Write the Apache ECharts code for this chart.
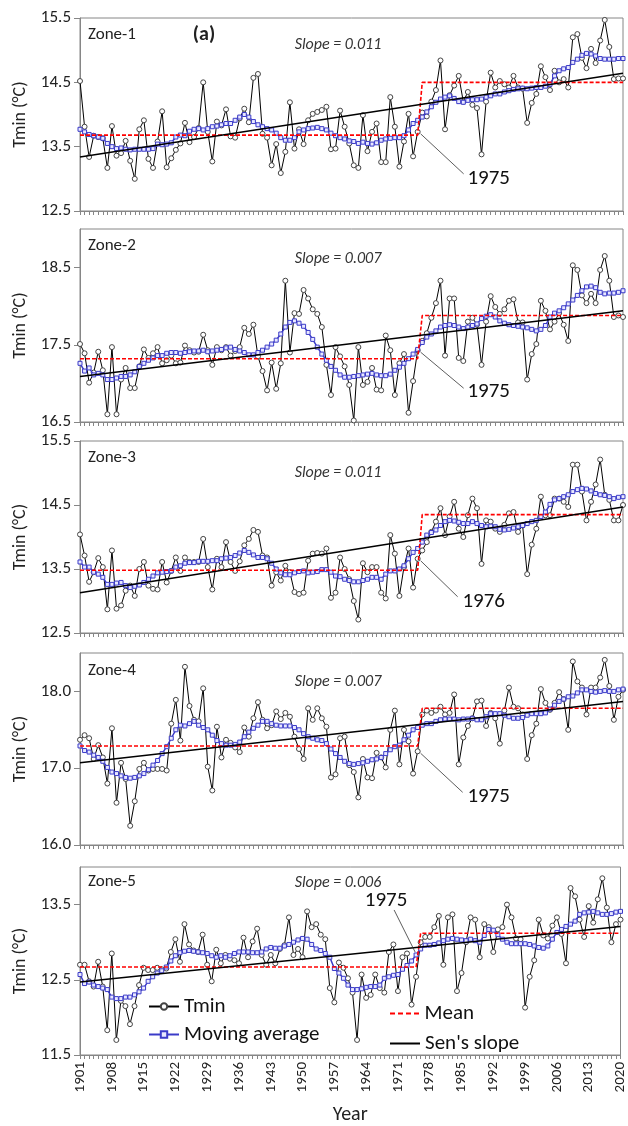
<!DOCTYPE html>
<html><head><meta charset="utf-8">
<script src="https://cdn.jsdelivr.net/npm/echarts@6/dist/echarts.min.js"></script>
<style>html,body{margin:0;padding:0;background:#fff}#c{width:628px;height:1126px}</style>
</head><body><div id="c"></div>
<script>
// ---------------- DATA ----------------
const years = [];
for (let y = 1901; y <= 2020; y++) years.push(String(y));

const zoneNames = ['Zone-1', 'Zone-2', 'Zone-3', 'Zone-4', 'Zone-5'];
const slopeLabels = ['Slope = 0.011', 'Slope = 0.007', 'Slope = 0.011', 'Slope = 0.007', 'Slope = 0.006'];
const shiftLabels = ['1975', '1975', '1976', '1975', '1975'];
const shiftYear = '1975';
const yMin = [12.5, 16.5, 12.5, 16.0, 11.5];
const yMax = [15.5, 19.0, 15.5, 18.5, 14.0];
const yTicks = [
  [12.5, 13.5, 14.5, 15.5],
  [16.5, 17.5, 18.5],
  [12.5, 13.5, 14.5, 15.5],
  [16.0, 17.0, 18.0],
  [11.5, 12.5, 13.5]
];

const tmin1 = [14.52,13.81,13.34,13.67,13.65,13.63,13.17,13.82,13.36,13.40,
13.59,13.28,13.00,13.77,13.91,13.31,13.17,13.58,14.05,13.18,
13.32,13.45,13.55,13.87,13.57,13.65,13.79,14.50,13.73,13.27,
13.89,13.83,14.08,13.66,13.64,13.94,14.09,13.88,14.57,14.63,
13.70,13.64,13.21,13.54,13.09,13.42,14.19,13.47,13.77,13.54,
13.91,14.01,14.04,14.07,14.12,13.46,13.47,14.06,13.81,13.55,
13.21,13.17,13.99,13.43,13.73,13.86,13.26,13.26,14.27,13.81,
13.19,13.58,14.01,13.35,13.73,14.03,13.97,14.20,14.38,14.84,
13.77,14.30,14.45,14.60,14.20,14.35,14.15,14.10,13.38,14.20,
14.65,14.42,14.52,14.47,14.42,14.60,14.42,14.40,13.87,14.18,
14.32,14.75,14.58,14.38,14.68,14.50,14.55,14.42,15.20,15.25,
14.88,14.72,15.02,14.80,15.15,15.47,15.05,14.55,14.56,14.56];
const ma1 = [13.77,13.73,13.69,13.67,13.65,13.63,13.55,13.50,13.47,13.48,
13.46,13.45,13.46,13.46,13.46,13.46,13.47,13.54,13.53,13.54,
13.56,13.65,13.68,13.67,13.74,13.77,13.78,13.76,13.78,13.81,
13.82,13.84,13.86,13.86,13.91,13.96,14.00,13.96,13.89,13.84,
13.81,13.78,13.76,13.71,13.64,13.60,13.60,13.64,13.73,13.76,
13.78,13.79,13.80,13.78,13.76,13.71,13.67,13.64,13.62,13.59,
13.58,13.55,13.57,13.55,13.54,13.56,13.60,13.62,13.63,13.64,
13.64,13.67,13.76,13.86,13.91,13.96,14.04,14.12,14.19,14.24,
14.27,14.29,14.25,14.20,14.19,14.22,14.23,14.23,14.24,14.27,
14.29,14.32,14.32,14.35,14.37,14.39,14.40,14.41,14.40,14.41,
14.42,14.42,14.44,14.47,14.60,14.68,14.71,14.73,14.81,14.86,
14.92,14.95,14.94,14.91,14.87,14.86,14.86,14.86,14.87,14.87];

const tmin2 = [17.51,17.39,17.01,17.14,17.41,17.17,16.60,17.47,16.60,17.05,
17.20,16.94,16.94,17.22,17.44,17.33,17.39,17.47,17.26,17.30,
17.36,17.26,17.27,17.49,17.43,17.40,17.41,17.63,17.43,17.24,
17.47,17.43,17.47,17.36,17.42,17.47,17.72,17.64,17.76,17.35,
17.16,16.91,17.27,16.93,17.26,18.33,17.40,17.91,17.90,18.21,
18.10,17.96,17.90,17.73,17.24,16.85,17.47,17.35,17.22,16.98,
16.52,17.47,16.98,17.02,17.20,16.92,16.91,17.62,17.43,16.85,
17.26,17.38,16.62,17.03,17.43,17.55,17.65,17.85,18.04,18.33,
17.36,18.10,18.10,17.33,17.29,17.80,17.85,17.76,17.24,17.80,
18.13,17.99,17.90,17.96,18.07,18.09,17.79,17.79,17.05,17.38,
17.51,18.07,17.94,17.70,17.80,17.91,17.76,17.55,18.53,18.47,
18.14,18.04,18.16,18.04,18.47,18.65,18.33,17.86,17.88,17.86];
const ma2 = [17.26,17.16,17.20,17.11,17.13,17.11,17.05,17.05,17.07,17.09,
17.09,17.11,17.15,17.22,17.26,17.30,17.33,17.36,17.36,17.39,
17.40,17.40,17.39,17.40,17.41,17.42,17.42,17.43,17.41,17.42,
17.43,17.44,17.46,17.47,17.44,17.42,17.40,17.37,17.37,17.40,
17.43,17.47,17.51,17.56,17.64,17.73,17.79,17.81,17.78,17.74,
17.66,17.57,17.47,17.38,17.30,17.22,17.17,17.11,17.08,17.08,
17.09,17.10,17.11,17.12,17.13,17.11,17.10,17.10,17.12,17.17,
17.21,17.26,17.32,17.38,17.44,17.53,17.60,17.64,17.68,17.73,
17.75,17.76,17.75,17.73,17.71,17.73,17.75,17.77,17.84,17.87,
17.89,17.86,17.81,17.78,17.76,17.75,17.74,17.73,17.72,17.70,
17.68,17.70,17.75,17.86,17.91,17.94,17.98,18.03,18.08,18.14,
18.20,18.25,18.26,18.24,18.18,18.16,18.17,18.17,18.18,18.20];

const tmin3 = [14.04,13.71,13.30,13.45,13.67,13.53,12.87,13.79,12.88,12.93,
13.16,13.24,13.08,13.50,13.61,13.24,13.19,13.18,13.61,13.29,
13.47,13.68,13.47,13.68,13.61,13.61,13.61,13.97,13.53,13.18,
13.66,13.53,13.92,13.61,13.47,13.62,13.87,13.97,14.11,14.08,
13.71,13.68,13.24,13.45,13.32,13.55,13.45,13.14,13.11,13.13,
13.63,13.74,13.75,13.74,13.82,13.05,13.13,13.68,13.50,13.34,
13.00,12.71,13.59,13.45,13.53,13.53,13.13,13.04,14.03,13.74,
13.08,13.53,13.82,13.21,13.66,13.79,13.92,14.08,14.24,14.45,
14.03,14.32,14.55,14.13,14.00,14.34,14.60,14.45,13.58,14.26,
14.24,14.13,14.08,14.19,14.37,14.39,14.08,14.18,13.42,13.88,
14.13,14.63,14.34,14.34,14.60,14.60,14.55,14.47,15.13,15.13,
14.71,14.26,14.55,14.82,15.21,14.66,14.58,14.26,14.26,14.50];
const ma3 = [13.61,13.53,13.53,13.45,13.42,13.37,13.26,13.26,13.28,13.29,
13.24,13.21,13.23,13.25,13.29,13.34,13.39,13.44,13.45,13.46,
13.47,13.53,13.55,13.59,13.60,13.60,13.62,13.62,13.62,13.63,
13.63,13.66,13.67,13.68,13.71,13.75,13.79,13.76,13.72,13.68,
13.68,13.66,13.59,13.50,13.44,13.41,13.41,13.44,13.46,13.47,
13.44,13.45,13.46,13.49,13.49,13.45,13.39,13.38,13.34,13.32,
13.30,13.30,13.32,13.34,13.37,13.37,13.34,13.42,13.47,13.47,
13.50,13.55,13.66,13.76,13.82,13.92,14.03,14.07,14.11,14.18,
14.24,14.26,14.25,14.23,14.21,14.21,14.24,14.21,14.18,14.16,
14.17,14.16,14.12,14.11,14.12,14.14,14.16,14.18,14.21,14.24,
14.26,14.32,14.39,14.51,14.58,14.60,14.63,14.66,14.71,14.74,
14.76,14.75,14.72,14.68,14.66,14.65,14.63,14.60,14.62,14.63];

const tmin4 = [17.37,17.43,17.39,17.12,17.30,17.14,16.80,17.52,16.55,17.07,
16.86,16.25,16.57,16.99,17.07,16.97,16.99,16.99,16.99,16.97,
17.58,17.89,17.36,18.32,17.81,17.63,17.61,18.04,17.02,16.71,
17.54,17.14,17.37,17.33,17.27,17.21,17.53,17.41,17.65,17.86,
17.63,17.52,17.56,17.74,17.64,17.72,17.67,17.41,17.25,17.12,
17.78,17.63,17.78,17.65,17.54,16.88,16.92,17.39,17.41,17.04,
16.95,16.62,17.12,16.88,16.87,17.20,17.14,17.01,17.50,17.75,
17.05,17.50,17.35,16.93,17.22,17.70,17.75,17.72,17.75,17.80,
17.70,17.72,17.96,17.05,17.40,17.55,17.65,17.87,17.88,17.55,
17.72,17.65,17.32,17.75,18.05,17.80,17.78,17.70,17.12,17.43,
17.58,18.03,17.85,17.76,17.85,17.99,17.90,17.50,18.39,18.13,
18.05,17.70,18.05,18.05,18.18,18.41,18.07,17.63,17.93,18.02];
const ma4 = [17.29,17.23,17.21,17.17,17.14,17.09,17.01,16.95,16.93,16.90,
16.88,16.87,16.88,16.90,16.93,16.98,17.04,17.10,17.19,17.28,
17.39,17.50,17.56,17.55,17.58,17.61,17.56,17.53,17.50,17.43,
17.36,17.32,17.30,17.30,17.31,17.34,17.41,17.47,17.52,17.56,
17.61,17.61,17.58,17.56,17.55,17.55,17.55,17.53,17.50,17.45,
17.41,17.39,17.37,17.36,17.32,17.25,17.19,17.14,17.09,17.06,
17.05,17.06,17.07,17.09,17.11,17.12,17.14,17.19,17.24,17.28,
17.30,17.37,17.43,17.50,17.53,17.56,17.58,17.58,17.61,17.63,
17.64,17.64,17.64,17.63,17.64,17.64,17.65,17.63,17.63,17.67,
17.71,17.71,17.71,17.69,17.67,17.65,17.65,17.66,17.69,17.71,
17.71,17.71,17.72,17.77,17.82,17.87,17.90,17.93,17.94,17.98,
18.02,18.02,18.00,17.99,18.00,18.01,18.00,18.00,18.02,18.03];

const tmin5 = [12.70,12.70,12.48,12.41,12.74,12.41,11.83,12.85,11.70,12.22,
12.15,11.91,12.15,12.43,12.66,12.63,12.63,12.66,12.64,12.65,
12.87,13.04,12.74,13.24,12.97,12.89,12.87,13.10,12.70,12.48,
12.90,12.72,12.83,12.78,12.76,12.72,13.06,12.80,13.01,13.18,
12.83,12.70,12.83,12.72,12.91,12.96,13.33,12.83,12.91,12.80,
13.41,13.20,13.24,13.10,13.04,12.39,12.20,12.73,12.66,12.52,
12.33,11.70,12.57,12.26,12.30,12.57,12.39,12.33,12.87,12.97,
12.35,12.80,12.85,12.17,12.54,13.00,13.07,13.07,13.20,13.35,
12.70,13.33,13.37,12.35,12.59,13.00,13.33,13.30,12.80,13.24,
13.20,12.87,13.17,13.20,13.50,13.33,13.05,13.04,12.13,12.54,
12.76,13.30,13.09,13.05,13.22,13.33,13.11,12.72,13.72,13.61,
13.30,13.07,13.48,13.26,13.57,13.85,13.46,13.00,13.24,13.30];
const ma5 = [12.57,12.45,12.47,12.43,12.41,12.39,12.37,12.27,12.25,12.25,
12.27,12.27,12.30,12.34,12.39,12.48,12.54,12.59,12.62,12.67,
12.75,12.82,12.86,12.88,12.89,12.88,12.87,12.86,12.85,12.82,
12.80,12.82,12.80,12.82,12.85,12.87,12.87,12.87,12.86,12.86,
12.87,12.91,12.93,12.92,12.92,12.95,12.97,13.00,13.03,13.05,
13.04,12.97,12.91,12.89,12.85,12.80,12.65,12.59,12.52,12.43,
12.37,12.37,12.38,12.40,12.41,12.41,12.43,12.52,12.54,12.56,
12.57,12.64,12.69,12.75,12.83,12.91,12.96,12.96,12.97,12.99,
13.02,13.04,13.05,13.04,13.03,13.02,13.04,13.02,13.00,13.09,
13.17,13.16,13.10,13.04,13.00,12.98,12.98,12.98,12.98,12.97,
12.95,12.93,12.92,12.95,13.04,13.13,13.17,13.21,13.24,13.28,
13.37,13.39,13.40,13.41,13.39,13.37,13.37,13.38,13.40,13.41];

const meanBefore = [13.68, 17.32, 13.48, 17.29, 12.67];
const meanAfter  = [14.50, 17.88, 14.35, 17.78, 13.12];
const senStart = [13.34, 17.09, 13.13, 17.07, 12.47];
const senEnd   = [14.64, 17.94, 14.47, 17.87, 13.21];

// ---------------- LAYOUT / STYLE ----------------
const FONT = 'Carlito, Lato, "Liberation Sans", sans-serif';
const gridTop = [18, 229, 441, 653, 867];
const gridH = [193, 193, 192, 192, 191];
const GL = 80, GW = 543;
const AX = '#868686';
const BLUE = '#3b3bc8';
const RED = '#ff0000';

const tminData = [tmin1, tmin2, tmin3, tmin4, tmin5];
const maData = [ma1, ma2, ma3, ma4, ma5];
const shiftIdx = years.indexOf(shiftYear);

const grids = [], xAxes = [], yAxes = [], series = [];
for (let k = 0; k < 5; k++) {
  grids.push({left: GL, width: GW, top: gridTop[k], height: gridH[k], show: true,
    borderColor: AX, borderWidth: 1, backgroundColor: 'transparent'});
  const last = k === 4;
  xAxes.push({type: 'category', gridIndex: k, data: years, boundaryGap: false,
    axisLine: {show: true, lineStyle: {color: AX, width: 1}},
    axisTick: {show: true, interval: 0, length: 4, lineStyle: {color: AX}},
    axisLabel: {show: last, interval: 6, rotate: 90, fontSize: 15, color: '#222', margin: 7, fontFamily: FONT},
    splitLine: {show: false},
    name: last ? 'Year' : '', nameLocation: 'middle', nameGap: 50,
    nameTextStyle: {fontSize: 20, color: '#222', fontFamily: FONT}});
  yAxes.push({type: 'value', gridIndex: k, min: yMin[k], max: yMax[k],
    axisLine: {show: true, lineStyle: {color: AX, width: 1}},
    axisTick: {show: true, length: 6, customValues: yTicks[k], lineStyle: {color: AX}},
    axisLabel: {customValues: yTicks[k], formatter: v => Number(v).toFixed(1), fontSize: 17, color: '#222', margin: 9, fontFamily: FONT},
    splitLine: {show: false},
    name: 'Tmin (°C)', nameLocation: 'middle', nameGap: 50,
    nameTextStyle: {fontSize: 18, color: '#222', fontFamily: FONT}});

  series.push({name: 'Tmin', type: 'line', xAxisIndex: k, yAxisIndex: k, data: tminData[k],
    symbol: 'circle', symbolSize: 5, showAllSymbol: true,
    itemStyle: {color: '#ffffff', borderColor: '#444', borderWidth: 1},
    lineStyle: {color: '#000', width: 1}, z: 3, animation: false});
  series.push({name: 'Moving average', type: 'line', xAxisIndex: k, yAxisIndex: k, data: maData[k],
    symbol: 'rect', symbolSize: 4, showAllSymbol: true,
    itemStyle: {color: '#e8e8ff', borderColor: BLUE, borderWidth: 1},
    lineStyle: {color: BLUE, width: 1.5}, z: 4, animation: false});
  const meanLine = years.map((y, i) => i <= shiftIdx ? meanBefore[k] : meanAfter[k]);
  series.push({name: 'Mean', type: 'line', xAxisIndex: k, yAxisIndex: k, data: meanLine,
    symbol: 'none', itemStyle: {color: RED},
    lineStyle: {color: RED, width: 1.6, type: [4, 2]}, z: 5, animation: false});
  series.push({name: "Sen's slope", type: 'line', xAxisIndex: k, yAxisIndex: k,
    data: [[years[0], senStart[k]], [years[years.length - 1], senEnd[k]]],
    symbol: 'none', itemStyle: {color: '#000'},
    lineStyle: {color: '#000', width: 1.5}, z: 6, animation: false});
}

const DASH_ICON = 'path://M0,0h5v2h-5zM8,0h5v2h-5zM16,0h5v2h-5zM24,0h5v2h-5z';
function leg(name, left, top, icon, ih) {
  const o = {data: [icon ? {name: name, icon: icon} : name], left: left, top: top, padding: 0,
    itemWidth: 30, itemHeight: ih || 8, selectedMode: false,
    textStyle: {fontSize: 21, color: '#111', fontFamily: FONT}};
  return o;
}

const baseGraphics = [];
const zoneDy = [17, 17, 17, 18, 15];
const slopeDy = [27, 30, 32, 29, 16];
for (let k = 0; k < 5; k++) {
  baseGraphics.push({type: 'text', x: GL + 8, y: gridTop[k] + zoneDy[k],
    style: {text: zoneNames[k], fontSize: 17, fontFamily: FONT, fill: '#222', align: 'left', verticalAlign: 'middle'}});
  baseGraphics.push({type: 'text', x: 338, y: gridTop[k] + slopeDy[k],
    style: {text: slopeLabels[k], fontSize: 16, fontStyle: 'italic', fontFamily: FONT, fill: '#333', align: 'center', verticalAlign: 'middle'}});
}
baseGraphics.push({type: 'text', x: 204, y: 35,
  style: {text: '(a)', fontSize: 20, fontWeight: 'bold', fontFamily: FONT, fill: '#222', align: 'center', verticalAlign: 'middle'}});

const chart = echarts.init(document.getElementById('c'), null, {renderer: 'canvas'});
chart.setOption({
  animation: false,
  backgroundColor: '#fff',
  textStyle: {fontFamily: FONT},
  grid: grids, xAxis: xAxes, yAxis: yAxes, series: series,
  legend: [
    leg('Tmin', 148, 996),
    leg('Moving average', 148, 1024),
    leg('Mean', 390, 1003, DASH_ICON, 2),
    leg("Sen's slope", 390, 1033, 'rect', 2)
  ],
  graphic: baseGraphics
});

// shift-year annotations anchored to the data points
const leadEnd = [[46, 42], [46, 38], [40, 38], [45, 41], [-22, -45]];
const textOff = [[71, 47], [71, 42], [66, 43], [71, 45], [-30, -54]];
const g2 = baseGraphics.slice();
for (let k = 0; k < 5; k++) {
  const v = k === 4 ? maData[k][shiftIdx] : tminData[k][shiftIdx];
  const p = chart.convertToPixel({gridIndex: k}, [shiftIdx, v]);
  const sx = p[0] + (k === 4 ? -1 : 3), sy = p[1] + (k === 4 ? -3 : 2);
  g2.push({type: 'line', shape: {x1: sx, y1: sy, x2: p[0] + leadEnd[k][0], y2: p[1] + leadEnd[k][1]},
    style: {stroke: '#333', lineWidth: 0.8}, z: 100});
  g2.push({type: 'text', x: p[0] + textOff[k][0], y: p[1] + textOff[k][1], z: 100,
    style: {text: shiftLabels[k], fontSize: 21, fontFamily: FONT, fill: '#111', align: 'center', verticalAlign: 'middle'}});
}
chart.setOption({graphic: g2});
</script></body></html>
